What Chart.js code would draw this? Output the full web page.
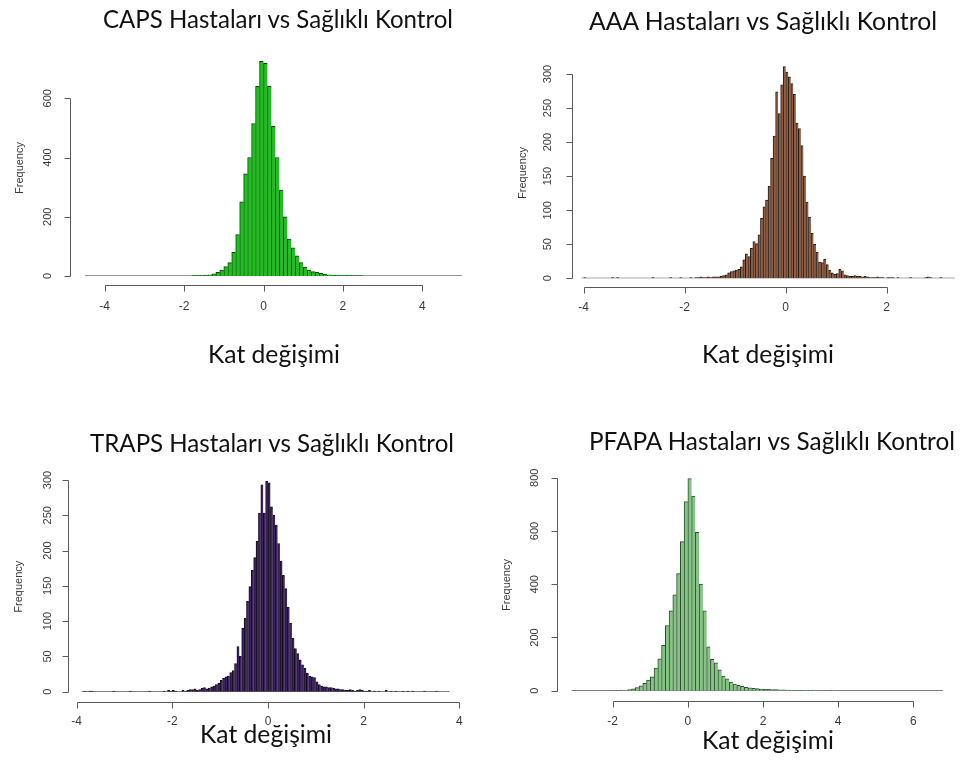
<!DOCTYPE html>
<html><head><meta charset="utf-8">
<script src="https://cdn.jsdelivr.net/npm/chart.js@4.4.1/dist/chart.umd.min.js"></script>
<style>
html,body{margin:0;padding:0;background:#fff;}
body{width:964px;height:780px;position:relative;overflow:hidden;}
canvas{position:absolute;left:0;top:0;}
svg{position:absolute;left:0;top:0;}
</style></head><body>
<svg id="txt" width="964" height="780" xmlns="http://www.w3.org/2000/svg"></svg>
<script>
// ---------------- DATA ----------------
const titleTexts = ['CAPS Hastaları vs Sağlıklı Kontrol','AAA Hastaları vs Sağlıklı Kontrol','TRAPS Hastaları vs Sağlıklı Kontrol','PFAPA Hastaları vs Sağlıklı Kontrol'];
const xLabelText = 'Kat değişimi';
const yLabelText = 'Frequency';

// CAPS: bins of 0.1, first listed bin starts at -1.8
const capsStart = -1.8, capsWidth = 0.1;
const capsCounts = [1,1,2,3,4,7,12,20,32,45, 80,140,250,345,400,515,640,725, 718,640,505,400,290,200,125,95,68,45, 30,20,15,12,9,6,4,3,3,2, 1,2,1,1,1];
const capsTailEdges = [], capsTailCounts = [];
const capsBreaks = [-4.5, 5.0];
const capsXTicks = [-4,-2,0,2,4];
const capsYTicks = [0,200,400,600];

// AAA: bins of 0.05, first listed bin starts at -1.90
const aaaStart = -1.9, aaaWidth = 0.05;
const aaaCounts = [1,0,1,1,2,1,1,2,1,2, 2,2,3,4,5,8,10,11,12,13, 17,27,36,32,44,54,51,64,88,105, 115,135,176,209,274,242,284,311,303,296, 286,270,228,220,195,150,112,90,66,50, 38,24,23,28,20,12,8,6,7,13, 11,5,4,3,3,4,3,3,2,3, 2,1,1,1,2,1,1,0,1,1, 1,0,1];
const aaaTailEdges = [-4.0,-3.45,-3.35,-2.65,-2.3,-2.1,2.45,2.75,2.8,2.85,3.05];
const aaaTailCounts = [1,1,1,1,1,1,1,1,2,1,1];
const aaaBreaks = [-4.05, 3.35];
const aaaXTicks = [-4,-2,0,2];
const aaaYTicks = [0,50,100,150,200,250,300];

// TRAPS: bins of 0.05, first listed bin starts at -1.60
const trapsStart = -1.6, trapsWidth = 0.05;
const trapsCounts = [3,4,2,3,5,6,4,5,7,8, 10,12,16,19,21,22,27,30,40,64, 50,90,104,128,149,172,190,213,253,293, 253,298,296,262,250,236,210,185,165,146, 120,97,76,61,54,45,38,33,26,22, 21,20,14,10,8,7,7,6,6,5, 4,4,3,3,2,2,3,2,1,2, 3,2,1];
const trapsTailEdges = [-3.85,-3.75,-3.7,-3.25,-2.9,-2.5,-2.2,-2.1,-2.05,-2.0,-1.95,-1.8,-1.75,-1.7,-1.65,2.05,2.1,2.2,2.3,2.45,2.55,2.65,2.8,2.9,3.0,3.25,3.5];
const trapsTailCounts = [1,1,1,1,1,1,1,2,1,2,1,2,1,2,3,1,2,1,1,2,1,1,1,1,1,1,1];
const trapsBreaks = [-3.9, 3.8];
const trapsXTicks = [-4,-2,0,2,4];
const trapsYTicks = [0,50,100,150,200,250,300];

// PFAPA: bins of 0.1, first listed bin starts at -2.0
const pfapaStart = -2.0, pfapaWidth = 0.1;
const pfapaCounts = [1,1,2,2,4,7,12,18,28,40, 52,85,120,170,245,300,360,440,560,710, 797,731,595,400,300,165,118,105,78,55, 45,32,25,20,16,13,11,9,8,6, 5,5,4,4,3,3,2,2,1,1, 1,0,1,2,0,0,0,0,2];
const pfapaTailEdges = [], pfapaTailCounts = [];
const pfapaBreaks = [-3.1, 6.8];
const pfapaXTicks = [-2,0,2,4,6];
const pfapaYTicks = [0,200,400,600,800];

// ---------------- LAYOUT / STYLE ----------------
const panels = [
  {title:titleTexts[0], counts:capsCounts, start:capsStart, width:capsWidth, tailE:capsTailEdges, tailC:capsTailCounts, breaks:capsBreaks, xTicks:capsXTicks, yTicks:capsYTicks, yMax:750,
   fill:'#22bd22', border:'#173a17', x0:263.5, xu:39.7, y0:276, yu:0.2962,
   yAxisX:70, xAxisY:285, yLabelX:48, yTitleX:20, yTitleY:168, xLabelY:307,
   titleX:103, titleY:28, titleLen:350, labX:208, labY:363},
  {title:titleTexts[1], counts:aaaCounts, start:aaaStart, width:aaaWidth, tailE:aaaTailEdges, tailC:aaaTailCounts, breaks:aaaBreaks, xTicks:aaaXTicks, yTicks:aaaYTicks, yMax:320,
   fill:'#8e5e45', border:'#2a1a12', x0:785.7, xu:50.5, y0:278.3, yu:0.681,
   yAxisX:571.7, xAxisY:287.3, yLabelX:548, yTitleX:523, yTitleY:173, xLabelY:308,
   titleX:589, titleY:30, titleLen:348, labX:702, labY:363},
  {title:titleTexts[2], counts:trapsCounts, start:trapsStart, width:trapsWidth, tailE:trapsTailEdges, tailC:trapsTailCounts, breaks:trapsBreaks, xTicks:trapsXTicks, yTicks:trapsYTicks, yMax:310,
   fill:'#3d2660', border:'#140a1e', x0:268, xu:47.83, y0:691.7, yu:0.7057,
   yAxisX:68.3, xAxisY:701.7, yLabelX:48.3, yTitleX:19.3, yTitleY:586.7, xLabelY:722,
   titleX:90, titleY:451.5, titleLen:364, labX:200, labY:743},
  {title:titleTexts[3], counts:pfapaCounts, start:pfapaStart, width:pfapaWidth, tailE:pfapaTailEdges, tailC:pfapaTailCounts, breaks:pfapaBreaks, xTicks:pfapaXTicks, yTicks:pfapaYTicks, yMax:820,
   fill:'#86c486', border:'#2f4a2f', x0:687.85, xu:37.575, y0:690.7, yu:0.26625,
   yAxisX:556.7, xAxisY:700.7, yLabelX:535, yTitleX:507.3, yTitleY:585, xLabelY:722,
   titleX:589, titleY:450, titleLen:366, labX:702, labY:749}
];

const W = 964, H = 780;

const axisPlugin = {
  id: 'rAxes',
  afterDraw(chart, args, o) {
    const ctx = chart.ctx, xs = chart.scales.x, ys = chart.scales.y;
    const yt = o.yTicks, xt = o.xTicks;
    ctx.save();
    ctx.strokeStyle = '#5a5a5a'; ctx.lineWidth = 1; ctx.fillStyle = '#3a3a3a';
    const ax = Math.round(o.yAxisX) + 0.5;
    const ay = Math.round(o.xAxisY) + 0.5;
    const tl = 6;
    ctx.beginPath();
    ctx.moveTo(ax, Math.round(ys.getPixelForValue(yt[0])) + 0.5);
    ctx.lineTo(ax, Math.round(ys.getPixelForValue(yt[yt.length-1])) + 0.5);
    yt.forEach(v => { const p = Math.round(ys.getPixelForValue(v)) + 0.5; ctx.moveTo(ax, p); ctx.lineTo(ax - tl, p); });
    ctx.moveTo(Math.round(xs.getPixelForValue(xt[0])) + 0.5, ay);
    ctx.lineTo(Math.round(xs.getPixelForValue(xt[xt.length-1])) + 0.5, ay);
    xt.forEach(v => { const p = Math.round(xs.getPixelForValue(v)) + 0.5; ctx.moveTo(p, ay); ctx.lineTo(p, ay + tl); });
    ctx.stroke();
    ctx.textAlign = 'center'; ctx.textBaseline = 'middle';
    ctx.font = '11px "Liberation Sans", Arial, sans-serif';
    yt.forEach(v => { ctx.save(); ctx.translate(o.yLabelX, ys.getPixelForValue(v)); ctx.rotate(-Math.PI/2); ctx.fillText(String(v), 0, 0); ctx.restore(); });
    ctx.font = '12px "Liberation Sans", Arial, sans-serif';
    xt.forEach(v => ctx.fillText(String(v), xs.getPixelForValue(v), o.xLabelY));
    ctx.font = '11px "Liberation Sans", Arial, sans-serif';
    ctx.save(); ctx.translate(o.yTitleX, o.yTitleY); ctx.rotate(-Math.PI/2); ctx.fillText(yLabelText, 0, 0); ctx.restore();
    ctx.restore();
  }
};

const svg = document.getElementById('txt');
function addText(str, x, y, len) {
  const t = document.createElementNS('http://www.w3.org/2000/svg', 'text');
  t.setAttribute('x', x); t.setAttribute('y', y);
  t.setAttribute('font-family', 'Lato, "Open Sans", sans-serif');
  t.setAttribute('font-size', '25');
  t.setAttribute('fill', '#111');
  if (len) { t.setAttribute('textLength', len); t.setAttribute('lengthAdjust', 'spacingAndGlyphs'); }
  t.textContent = str;
  svg.appendChild(t);
}

panels.forEach(p => {
  const cv = document.createElement('canvas');
  cv.width = W; cv.height = H;
  cv.style.width = W + 'px'; cv.style.height = H + 'px';
  document.body.insertBefore(cv, svg);
  const pts = p.counts.map((c, i) => ({x: p.start + (i + 0.5) * p.width, y: c}));
  p.tailE.forEach((e, i) => pts.push({x: e + p.width / 2, y: p.tailC[i]}));
  pts.sort((a, b) => a.x - b.x);
  const left = p.x0 + p.breaks[0] * p.xu;
  const right = p.x0 + p.breaks[1] * p.xu;
  const top = p.y0 - p.yMax * p.yu;
  new Chart(cv, {
    type: 'bar',
    data: {
      datasets: [
        {type: 'line', data: [{x: p.breaks[0], y: 0}, {x: p.breaks[1], y: 0}], borderColor: '#2a2a2a', borderWidth: 1, pointRadius: 0, order: 2},
        {type: 'bar', data: pts, backgroundColor: p.fill, borderColor: p.border,
         borderWidth: {left: 1, top: 1, right: 0, bottom: 0}, borderSkipped: false,
         barPercentage: 1, categoryPercentage: 1, order: 1}
      ]
    },
    options: {
      responsive: false, animation: false, events: [],
      layout: {padding: {left: left, right: W - right, top: top, bottom: H - p.y0}},
      plugins: {legend: {display: false}, tooltip: {enabled: false},
        rAxes: {xTicks: p.xTicks, yTicks: p.yTicks, yAxisX: p.yAxisX, xAxisY: p.xAxisY, yLabelX: p.yLabelX, yTitleX: p.yTitleX, yTitleY: p.yTitleY, xLabelY: p.xLabelY}},
      scales: {
        x: {type: 'linear', min: p.breaks[0], max: p.breaks[1], offset: false, display: false},
        y: {type: 'linear', min: 0, max: p.yMax, display: false}
      }
    },
    plugins: [axisPlugin]
  });
  addText(p.title, p.titleX, p.titleY, p.titleLen);
  addText(xLabelText, p.labX, p.labY, 132);
});
</script>
</body></html>
